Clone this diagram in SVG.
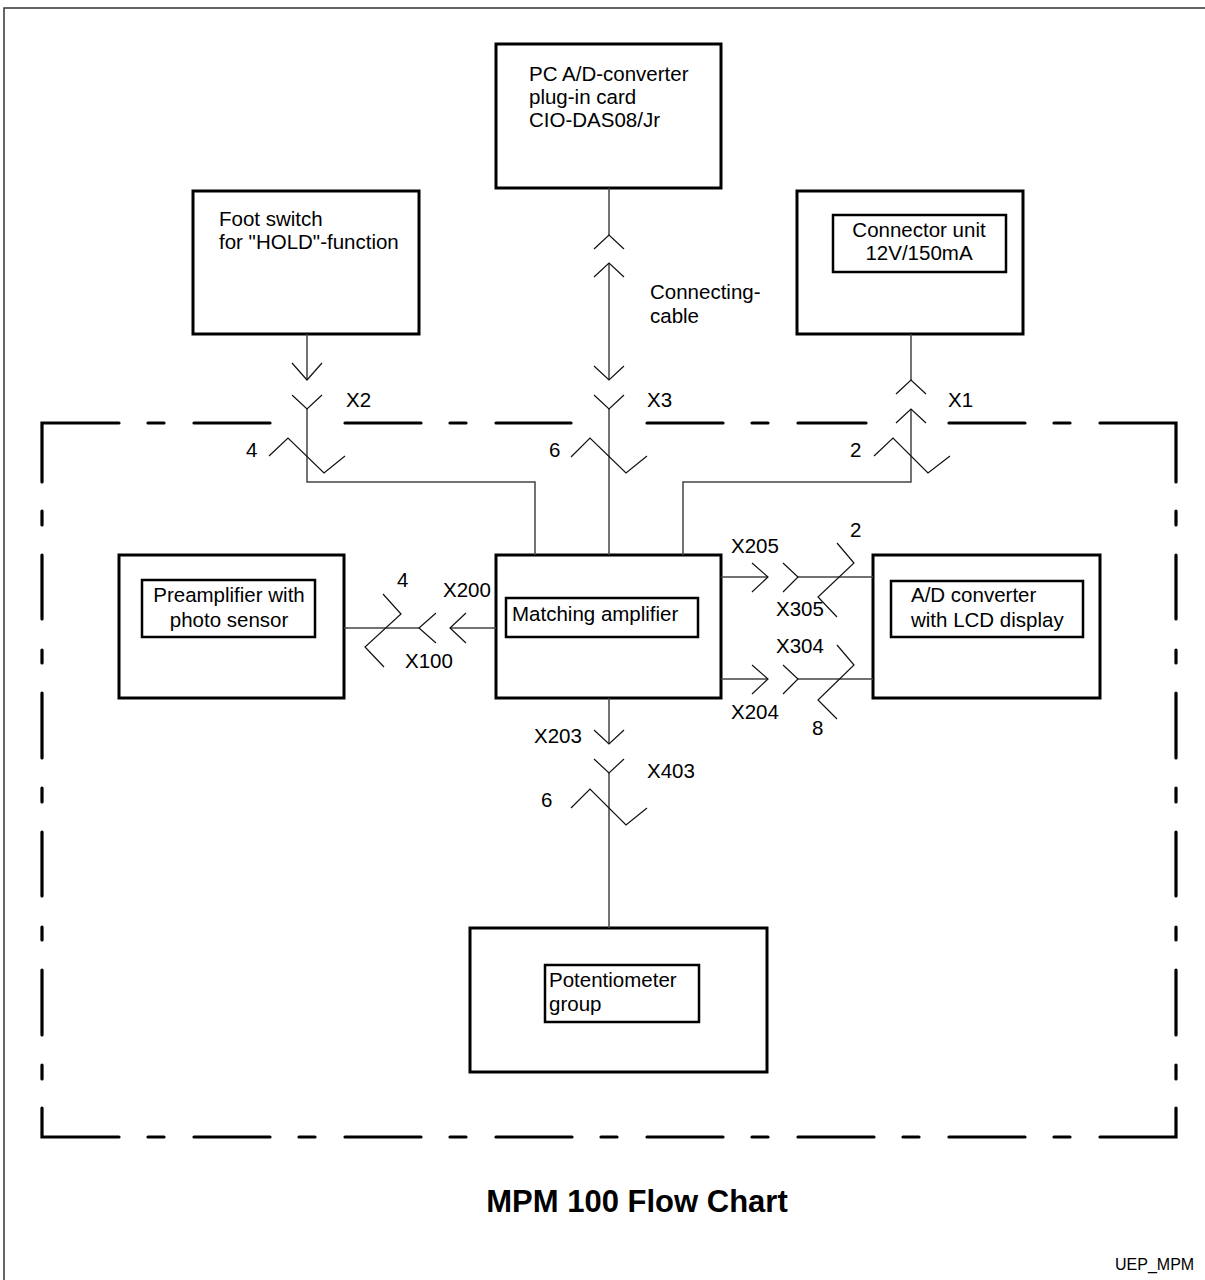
<svg xmlns="http://www.w3.org/2000/svg" width="1205" height="1280" viewBox="0 0 1205 1280">
<style>
text{font-family:"Liberation Sans",Arial,sans-serif;font-size:20.5px;fill:#000}
.box{fill:none;stroke:#000;stroke-width:3}
.inner{fill:none;stroke:#000;stroke-width:2.5}
.wire{fill:none;stroke:#444;stroke-width:1.5}
.sym{fill:none;stroke:#111;stroke-width:1.2}
.dash{fill:none;stroke:#000;stroke-width:3.2;stroke-linecap:round;stroke-linejoin:miter}
.frame{fill:none;stroke:#333;stroke-width:1.5}
.title{font-size:31px;font-weight:bold}
.small{font-size:16px}
</style>
<rect width="1205" height="1280" fill="#fff"/>
<rect class="frame" x="4" y="8" width="1230" height="1300"/>

<g id="enclosure">
<path class="dash" d="M42,482V423H119 M148,423H164 M194,423H270 M345,423H421 M450,423H466 M496,423H571 M647,423H723 M752,423H768 M798,423H866 M949,423H1025 M1054,423H1070 M1100,423H1176V482"/>
<path class="dash" d="M42,1108V1137H119 M148,1137H164 M194,1137H270 M299,1137H315 M345,1137H421 M450,1137H466 M496,1137H572 M601,1137H617 M647,1137H723 M752,1137H768 M798,1137H874 M903,1137H919 M949,1137H1025 M1054,1137H1070 M1100,1137H1176V1108"/>
<path class="dash" d="M42,511V525 M42,555V619 M42,650V663 M42,693V758 M42,788V802 M42,832V896 M42,927V940 M42,970V1035 M42,1065V1079"/>
<path class="dash" d="M1176,511V525 M1176,555V619 M1176,650V663 M1176,693V758 M1176,788V802 M1176,832V896 M1176,927V940 M1176,970V1035 M1176,1065V1079"/>
</g>

<g id="pc-card">
<rect class="box" x="496" y="44" width="225" height="144"/>
<text x="529" y="81">PC A/D-converter</text>
<text x="529" y="104">plug-in card</text>
<text x="529" y="127">CIO-DAS08/Jr</text>
</g>

<g id="foot-switch">
<rect class="box" x="193" y="191" width="226" height="143"/>
<text x="219" y="226">Foot switch</text>
<text x="219" y="249">for "HOLD"-function</text>
</g>

<g id="connector-unit">
<rect class="box" x="797" y="191" width="226" height="143"/>
<rect class="inner" x="833" y="215" width="173" height="57"/>
<text x="919" y="237" text-anchor="middle">Connector unit</text>
<text x="919" y="260" text-anchor="middle">12V/150mA</text>
</g>

<g id="preamplifier">
<rect class="box" x="119" y="555" width="225" height="143"/>
<rect class="inner" x="142" y="580" width="173" height="57"/>
<text x="229" y="602" text-anchor="middle">Preamplifier with</text>
<text x="229" y="627" text-anchor="middle">photo sensor</text>
</g>

<g id="matching-amplifier">
<rect class="box" x="496" y="555" width="225" height="143"/>
<rect class="inner" x="506" y="598" width="192" height="39"/>
<text x="512" y="621">Matching amplifier</text>
</g>

<g id="ad-converter">
<rect class="box" x="873" y="555" width="227" height="143"/>
<rect class="inner" x="891" y="581" width="192" height="56"/>
<text x="911" y="602">A/D converter</text>
<text x="911" y="627">with LCD display</text>
</g>

<g id="potentiometer">
<rect class="box" x="470" y="928" width="297" height="144"/>
<rect class="inner" x="545" y="965" width="154" height="57"/>
<text x="549" y="987">Potentiometer</text>
<text x="549" y="1011">group</text>
</g>

<g id="connectors">
<!-- X2 -->
<path class="wire" d="M307,334V380 M307,409V482H535V555"/>
<path class="sym" d="M292,363L307,380L322,363 M292,395L307,409L322,395 M269,456L288,438L324,473L345,456"/>
<!-- X3 -->
<path class="wire" d="M609,188V235 M609,263V380 M609,409V555"/>
<path class="sym" d="M594,249L609,235L624,249 M594,277L609,263L624,277 M594,366L609,380L624,366 M594,395L609,409L624,395 M571,457L590,438L626,473L647,456"/>
<!-- X1 -->
<path class="wire" d="M911,334V380 M911,409V482H683V555"/>
<path class="sym" d="M896,394L911,380L926,394 M896,423L911,409L926,423 M874,456L893,438L928,473L950,456"/>
<!-- X200 / X100 -->
<path class="wire" d="M344,628H419 M450,628H496"/>
<path class="sym" d="M436,613L419,628L436,643 M466,613L450,628L466,643 M383,594L401,614L365,647L384,667"/>
<!-- X205 / X305 -->
<path class="wire" d="M721,577H768 M798,577H873"/>
<path class="sym" d="M752,563L768,577L752,592 M783,563L798,577L783,592 M837,543L854,563L818,597L837,617"/>
<!-- X204 / X304 -->
<path class="wire" d="M721,679H768 M798,679H873"/>
<path class="sym" d="M752,665L768,679L752,694 M783,665L798,679L783,694 M837,645L854,665L818,700L837,719"/>
<!-- X203 / X403 -->
<path class="wire" d="M609,698V744 M609,773V928"/>
<path class="sym" d="M594,730L609,744L624,730 M594,759L609,773L624,759 M571,808L590,789L626,825L647,808"/>
</g>

<g id="labels">
<text x="650" y="299">Connecting-</text>
<text x="650" y="323">cable</text>
<text x="346" y="407">X2</text>
<text x="647" y="407">X3</text>
<text x="948" y="407">X1</text>
<text x="246" y="457">4</text>
<text x="549" y="457">6</text>
<text x="850" y="457">2</text>
<text x="397" y="587">4</text>
<text x="443" y="597">X200</text>
<text x="405" y="668">X100</text>
<text x="731" y="553">X205</text>
<text x="850" y="537">2</text>
<text x="776" y="616">X305</text>
<text x="776" y="653">X304</text>
<text x="731" y="719">X204</text>
<text x="812" y="735">8</text>
<text x="534" y="743">X203</text>
<text x="647" y="778">X403</text>
<text x="541" y="807">6</text>
</g>

<text class="title" x="637" y="1212" text-anchor="middle">MPM 100 Flow Chart</text>
<text class="small" x="1115" y="1270">UEP_MPM</text>
</svg>
